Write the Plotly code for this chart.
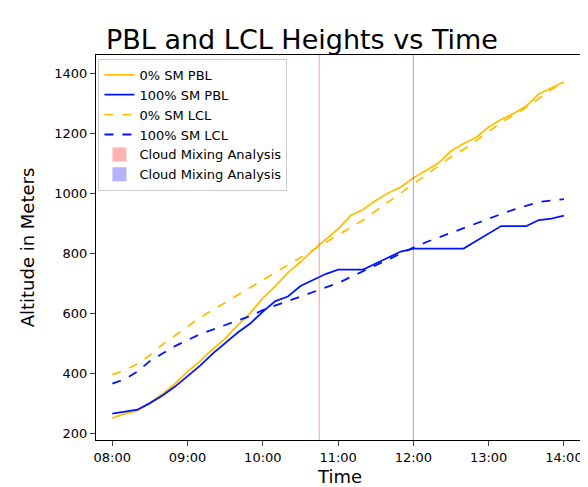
import plotly.graph_objects as go
import pandas as pd

times = pd.date_range("2024-01-01 08:00", "2024-01-01 14:00", freq="10min")

pbl_0 = [250, 265, 275, 300, 330, 365, 405, 440, 480, 515, 560, 600, 650, 690, 735, 770,
         810, 845, 880, 925, 945, 975, 1000, 1020, 1050, 1075, 1100, 1140, 1165, 1185,
         1220, 1245, 1265, 1290, 1330, 1350, 1370]
pbl_100 = [265, 272, 278, 300, 325, 355, 390, 425, 465, 500, 535, 565, 605, 640, 655, 690,
           710, 730, 745, 745, 745, 765, 785, 805, 815, 815, 815, 815, 815, 840, 865, 890,
           890, 890, 910, 915, 925]
lcl_0 = [395, 410, 430, 460, 495, 525, 555, 585, 610, 635, 660, 685, 710, 735, 760, 785,
         810, 835, 860, 885, 910, 940, 970, 1000, 1030, 1060, 1090, 1120, 1145, 1175,
         1205, 1235, 1260, 1285, 1315, 1345, 1370]
lcl_100 = [365, 380, 405, 440, 465, 490, 510, 530, 545, 560, 575, 590, 610, 625, 640, 655,
           670, 685, 700, 720, 740, 760, 780, 800, 818, 836, 852, 868, 884, 900, 915, 930,
           945, 958, 970, 975, 980]

mixing_times = ["2024-01-01 10:45", "2024-01-01 12:00"]
mixing_colors = ["rgba(255,0,0,0.3)", "rgba(0,0,255,0.3)"]

orange = "#FFBF00"
blue = "#0015FF"

fig = go.Figure()
fig.add_trace(go.Scatter(x=times, y=pbl_0, mode="lines", name="0% SM PBL", line=dict(color=orange, width=1.8)))
fig.add_trace(go.Scatter(x=times, y=pbl_100, mode="lines", name="100% SM PBL", line=dict(color=blue, width=1.8)))
fig.add_trace(go.Scatter(x=times, y=lcl_0, mode="lines", name="0% SM LCL", line=dict(color=orange, width=1.8, dash="dash")))
fig.add_trace(go.Scatter(x=times, y=lcl_100, mode="lines", name="100% SM LCL", line=dict(color=blue, width=1.8, dash="dash")))

for t, c in zip(mixing_times, mixing_colors):
    fig.add_vline(x=pd.Timestamp(t).value / 1e6, line=dict(color=c, width=1.3))
    fig.add_trace(go.Scatter(x=[None], y=[None], mode="markers", name="Cloud Mixing Analysis",
                             marker=dict(symbol="square", size=14, color=c)))

fig.update_layout(
    width=588, height=487,
    paper_bgcolor="white", plot_bgcolor="white",
    font=dict(family="DejaVu Sans", color="black", size=13),
    title=dict(text="PBL and LCL Heights vs Time", x=0.5, xanchor="center", y=0.955, font=dict(size=27)),
    margin=dict(l=88, r=12, t=47, b=55),
    legend=dict(x=0.005, y=0.99, xanchor="left", yanchor="top", bordercolor="#cccccc", borderwidth=1,
                bgcolor="rgba(255,255,255,0.8)", font=dict(size=13), tracegroupgap=0),
    showlegend=True,
)
fig.update_xaxes(title=dict(text="Time", font=dict(size=18), standoff=6), type="date", tickformat="%H:%M",
                 dtick=3600000, range=["2024-01-01 07:47", "2024-01-01 14:16"],
                 showline=True, linecolor="black", mirror=True, ticks="outside", showgrid=False, zeroline=False)
fig.update_yaxes(title=dict(text="Altitude in Meters", font=dict(size=18)), range=[177, 1460], dtick=200,
                 showline=True, linecolor="black", mirror=True, ticks="outside", showgrid=False, zeroline=False)

fig.write_html("out.html")
